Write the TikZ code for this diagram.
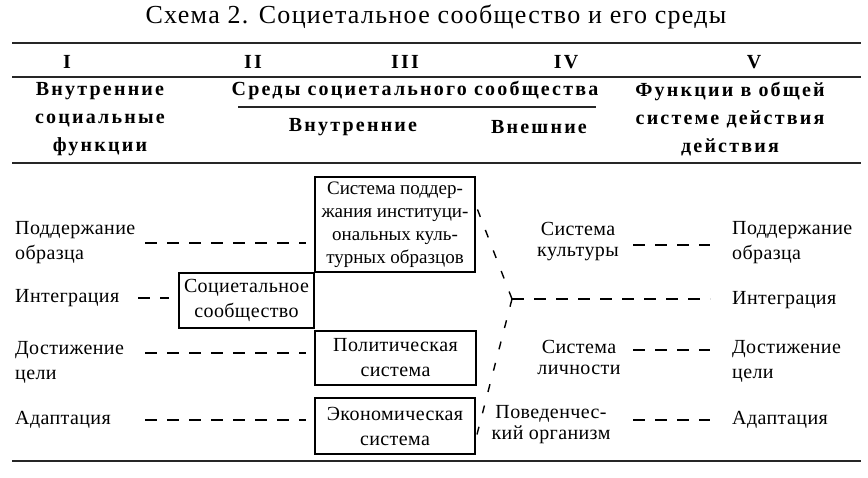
\documentclass[tikz,border=0pt]{standalone}
\usepackage{fontspec}
\setmainfont{Liberation Serif}[LetterSpace=2]
\newfontfamily\titlefont{Liberation Serif}[LetterSpace=5]
\newfontfamily\boxfont{Liberation Serif}[LetterSpace=0]
\newfontfamily\headfont{Liberation Serif Bold}[LetterSpace=11]
\usetikzlibrary{positioning}

\begin{document}
\begin{tikzpicture}[x=1pt, y=-1pt, every node/.style={font=\fontsize{20}{25}\selectfont, inner sep=0pt},
	rule/.style={line width=1.3pt, black!85},
	head/.style={font=\headfont\fontsize{20}{28}\selectfont, align=center},
	fbox/.style={draw, line width=1.1pt, align=center},
	lab/.style={anchor=west, align=left},
	sys/.style={align=center, font=\fontsize{20}{21}\selectfont},
	dline/.style={line width=1.6pt, dash pattern=on 11.5pt off 10.5pt},
	diag/.style={line width=1.4pt, dash pattern=on 8pt off 14pt}]
	\useasboundingbox (0,0) rectangle (868,478);
	\node (title) at (436,17) {\titlefont\fontsize{26}{30}\selectfont Схема 2. Социетальное сообщество и его среды};
	\draw[rule] (12,43) -- (861,43);
	\draw[rule] (12,77) -- (861,77);
	\draw[rule] (12,163) -- (861,163);
	\draw[rule] (12,461) -- (861,461);
	\node[head] (nI) at (67,62) {I};
	\node[head] (nII) at (253,62) {II};
	\node[head] (nIII) at (405,62) {III};
	\node[head] (nIV) at (566,62) {IV};
	\node[head] (nV) at (754,62) {V};
	\node[head] (colI) at (100,119) {Внутренние\\социальные\\функции};
	\node[head] (env) at (415,90) {Среды социетального сообщества};
	\draw[rule] (238,107) -- (596,107);
	\node[head] (inner) at (353,127) {Внутренние};
	\node[head] (outer) at (539,127) {Внешние};
	\node[head] (colV) at (730,119) {Функции в общей\\системе действия\\действия};
	\node[fbox, minimum width=160pt, minimum height=95pt, font=\boxfont\fontsize{19}{23}\selectfont] (culture) at (395,224.5) {Система поддер-\\жания институци-\\ональных куль-\\турных образцов};
	\node[fbox, minimum width=135pt, minimum height=55pt] (societal) at (246.5,300.5) {Социетальное\\сообщество};
	\node[fbox, minimum width=161pt, minimum height=54pt] (politics) at (395.5,358) {Политическая\\система};
	\node[fbox, minimum width=160pt, minimum height=56pt] (economy) at (395,426) {Экономическая\\система};
	\node[lab] (lpat) at (15,243) {Поддержание\\образца};
	\node[lab] (lint) at (15,298) {Интеграция};
	\node[lab] (lgoal) at (15,362) {Достижение\\цели};
	\node[lab] (lad) at (15,420) {Адаптация};
	\node[sys] (rcult) at (578,242) {Система\\культуры};
	\node[sys] (rpers) at (579,357) {Система\\личности};
	\node[sys] (rbeh) at (551,425) {Поведенчес-\\кий организм};
	\node[lab] (rpat) at (732,243) {Поддержание\\образца};
	\node[lab] (rint) at (732,300) {Интеграция};
	\node[lab] (rgoal) at (732,361) {Достижение\\цели};
	\node[lab] (rad) at (732,420) {Адаптация};
	\coordinate (jn) at (512,299);
	\coordinate (dcol) at (633,0);
	\draw[dline, shorten >=8pt] (lpat.east -| 145,0) -- (lpat.east -| culture.west);
	\draw[dline, shorten >=9pt] (lint.east -| 138,0) -- (lint.east -| societal.west);
	\draw[dline, shorten >=8pt] ([yshift=9pt]lgoal.east -| 145,0) -- ([yshift=9pt]lgoal.east -| politics.west);
	\draw[dline, shorten >=8pt] (lad.east -| 145,0) -- (lad.east -| economy.west);
	\draw[diag] (jn) -- ([yshift=20pt]culture.east);
	\draw[diag] (jn) -- ([yshift=-14pt]economy.east);
	\draw[dline, shorten >=22pt] (jn) -- (jn -| rint.west);
	\draw[dline, shorten >=22pt] ([yshift=-3pt]rcult.east -| dcol) -- ([yshift=-3pt]rcult.east -| rpat.west);
	\draw[dline, shorten >=22pt] ([yshift=7pt]rpers.east -| dcol) -- ([yshift=7pt]rpers.east -| rgoal.west);
	\draw[dline, shorten >=22pt] ([yshift=5pt]rbeh.east -| dcol) -- ([yshift=5pt]rbeh.east -| rad.west);
\end{tikzpicture}
\end{document}
